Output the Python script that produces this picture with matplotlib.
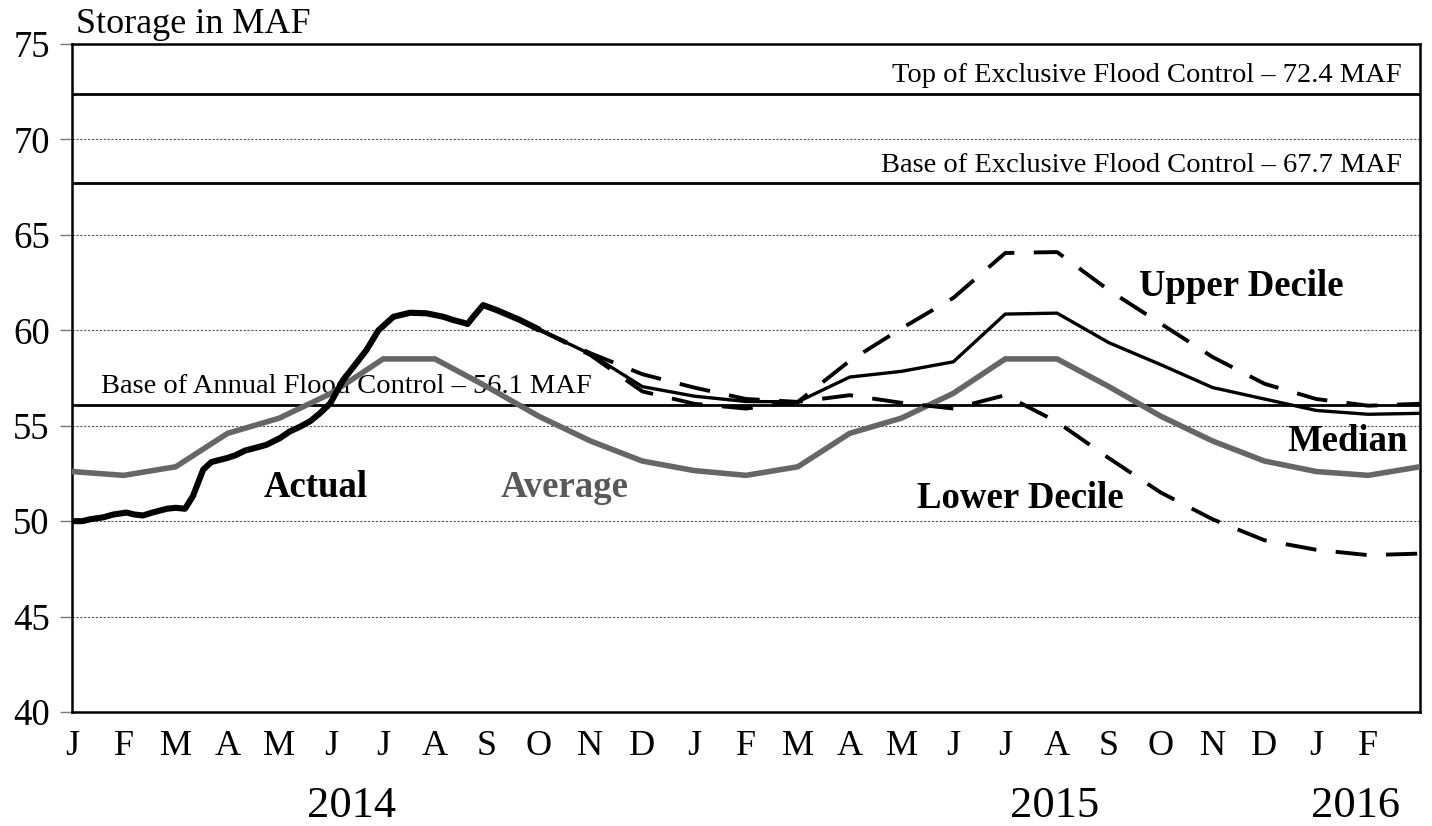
import matplotlib
matplotlib.use("Agg")
import matplotlib.pyplot as plt
import matplotlib.transforms as mtransforms
import numpy as np

plt.rcParams['font.family'] = ['Liberation Serif', 'DejaVu Serif']

# month labels, Jan 2014 .. Feb 2016 (index 0 = 1 Jan 2014)
months = ["J", "F", "M", "A", "M", "J", "J", "A", "S", "O", "N", "D",
          "J", "F", "M", "A", "M", "J", "J", "A", "S", "O", "N", "D",
          "J", "F"]
years = ["2014", "2015", "2016"]
year_pos = [5.4, 18.95, 24.75]

# long-term average, first of each month, Jan 2014 .. Mar 2016
average = [52.6, 52.4, 52.85, 54.6, 55.4, 56.7, 58.5, 58.5, 57.05, 55.5, 54.2, 53.15,
           52.65, 52.4, 52.85, 54.6, 55.4, 56.7, 58.5, 58.5, 57.05, 55.5, 54.2, 53.15,
           52.6, 52.4, 52.85]

# actual storage (month offset, MAF)
actual_t = [0.0, 0.2, 0.35, 0.6, 0.8, 1.05, 1.2, 1.37, 1.55, 1.83, 2.0, 2.18, 2.33, 2.53,
            2.69, 2.98, 3.15, 3.34, 3.55, 3.75, 4.01, 4.2, 4.4, 4.6, 4.78, 4.98, 5.23,
            5.49, 5.68, 5.91, 6.2, 6.52, 6.84, 7.16, 7.35, 7.55, 7.63, 7.74, 7.93, 8.19,
            8.64, 9.0]
actual_v = [50.0, 50.0, 50.1, 50.2, 50.35, 50.45, 50.35, 50.3, 50.45, 50.65, 50.7, 50.65,
            51.3, 52.7, 53.1, 53.3, 53.45, 53.7, 53.85, 54.0, 54.35, 54.7, 54.95, 55.25,
            55.65, 56.17, 57.4, 58.3, 58.97, 60.0, 60.71, 60.92, 60.89, 60.71, 60.54,
            60.4, 60.33, 60.71, 61.32, 61.06, 60.54, 60.05]

# forecasts, first of each month, Oct 2014 .. Mar 2016
fc_t = list(range(9, 27))
upper = [60.05, 58.8, 57.7, 57.0, 56.4, 56.25, 58.4, 60.1, 61.7, 64.05, 64.1, 62.1,
         60.35, 58.6, 57.2, 56.4, 56.05, 56.15]
median = [60.05, 58.75, 57.05, 56.55, 56.27, 56.25, 57.55, 57.85, 58.35, 60.85, 60.9,
          59.35, 58.2, 57.0, 56.4, 55.8, 55.6, 55.65]
lower = [60.05, 58.7, 56.8, 56.15, 55.9, 56.25, 56.6, 56.2, 55.9, 56.6, 55.2, 53.3,
         51.5, 50.1, 49.0, 48.5, 48.22, 48.3]

# flood control levels
levels = [72.4, 67.7, 56.1]
level_text = ["Top of Exclusive Flood Control \u2013 72.4 MAF",
              "Base of Exclusive Flood Control \u2013 67.7 MAF",
              "Base of Annual Flood Control \u2013 56.1 MAF"]

fig = plt.figure(figsize=(14.32, 8.26), dpi=100)
ax = fig.add_axes([0.0503, 0.138, 0.9413, 0.8087])

ax.set_xlim(0, 26)
ax.set_ylim(40, 75)

for y in [45, 50, 55, 60, 65, 70]:
    ax.axhline(y, color="#555555", lw=0.8, ls=(0, (2, 1.5)), zorder=1)

for lv in levels:
    ax.axhline(lv, color="black", lw=2.0, zorder=2)

ax.text(25.65, 72.4 + 0.3, level_text[0], ha="right", va="bottom", fontsize=20.5)
ax.text(25.65, 67.7 + 0.3, level_text[1], ha="right", va="bottom", fontsize=20.5)
ax.text(0.55, 56.1 + 0.3, level_text[2], ha="left", va="bottom", fontsize=20.5)

x = np.arange(len(average))
ax.plot(x, average, color="#666666", lw=4.0, zorder=3, solid_joinstyle="miter")

ax.plot(fc_t, upper, color="black", lw=2.8, ls=(0, (8, 5)), dash_capstyle="butt", zorder=4)
ax.plot(fc_t, lower, color="black", lw=2.8, ls=(0, (8, 5)), dash_capstyle="butt", zorder=4)
ax.plot(fc_t, median, color="black", lw=2.4, zorder=4)
ax.plot(actual_t, actual_v, color="black", lw=4.4, zorder=5, solid_capstyle="round")

ax.text(4.7, 51.75, "Actual", fontsize=26.5, fontweight="bold", ha="center", va="center")
ax.text(9.5, 51.75, "Average", fontsize=26.5, fontweight="bold", ha="center", va="center",
        color="#595959")
ax.text(22.55, 62.3, "Upper Decile", fontsize=26.5, fontweight="bold", ha="center", va="center")
ax.text(18.3, 51.2, "Lower Decile", fontsize=26.5, fontweight="bold", ha="center", va="center")
ax.text(24.6, 54.2, "Median", fontsize=26.5, fontweight="bold", ha="center", va="center")

for s in ax.spines.values():
    s.set_linewidth(1.8)
    s.set_color("black")

ax.set_yticks([40, 45, 50, 55, 60, 65, 70, 75])
ax.tick_params(axis="y", length=9, width=1, color="#777777", labelsize=26.5, pad=7)
ax.set_xticks(range(len(months)))
ax.set_xticklabels(months)
ax.tick_params(axis="x", length=0, labelsize=26, pad=13)

trans = mtransforms.blended_transform_factory(ax.transData, fig.transFigure)
for yr, xp in zip(years, year_pos):
    ax.text(xp, 0.024, yr, transform=trans, ha="center", va="center", fontsize=32)

fig.text(0.053, 0.96, "Storage in MAF", ha="left", va="baseline", fontsize=26)

fig.savefig("out.png", dpi=100)
